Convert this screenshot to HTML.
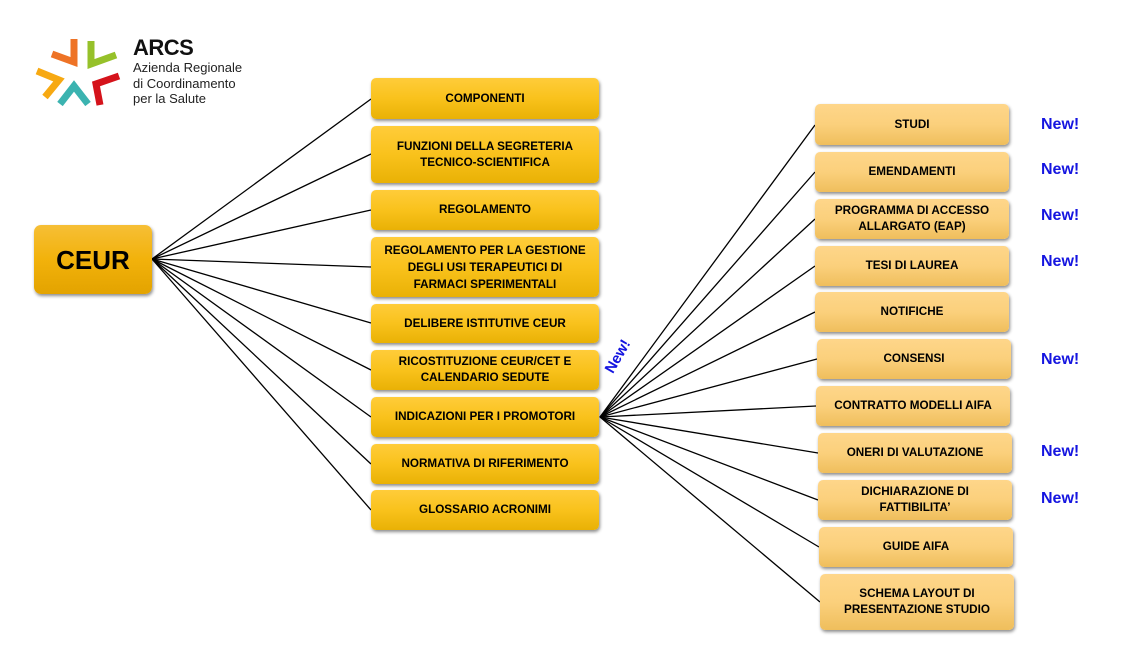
<!DOCTYPE html>
<html><head><meta charset="utf-8">
<style>
body{margin:0;width:1121px;height:672px;background:#fff;position:relative;overflow:hidden;font-family:"Liberation Sans",sans-serif}
.b{position:absolute;display:flex;align-items:center;justify-content:center;text-align:center;font-weight:bold;font-size:11.7px;line-height:16px;color:#000;border-radius:5px;box-shadow:1px 2px 3px rgba(0,0,0,.45)}
.m{left:371px;width:228px;background:linear-gradient(#ffcc3a,#f9c21c 50%,#e9b105)}
.r{width:194px;background:linear-gradient(#fed68a,#fbd07c 50%,#efbe5c)}
.n{position:absolute;left:1041px;color:#1515e0;font-weight:bold;font-size:16px;line-height:18px}
svg{position:absolute;left:0;top:0}
</style></head><body>
<svg width="1121" height="672">
<g stroke="#000" stroke-width="1.3">
<line x1="152" y1="259" x2="371" y2="99"/>
<line x1="152" y1="259" x2="371" y2="154"/>
<line x1="152" y1="259" x2="371" y2="210"/>
<line x1="152" y1="259" x2="371" y2="267"/>
<line x1="152" y1="259" x2="371" y2="323"/>
<line x1="152" y1="259" x2="371" y2="370"/>
<line x1="152" y1="259" x2="371" y2="417"/>
<line x1="152" y1="259" x2="371" y2="464"/>
<line x1="152" y1="259" x2="371" y2="510"/>
<line x1="600" y1="417" x2="815" y2="125"/>
<line x1="600" y1="417" x2="815" y2="172"/>
<line x1="600" y1="417" x2="815" y2="219"/>
<line x1="600" y1="417" x2="815" y2="266"/>
<line x1="600" y1="417" x2="815" y2="312"/>
<line x1="600" y1="417" x2="817" y2="359"/>
<line x1="600" y1="417" x2="816" y2="406"/>
<line x1="600" y1="417" x2="818" y2="453"/>
<line x1="600" y1="417" x2="818" y2="500"/>
<line x1="600" y1="417" x2="819" y2="547"/>
<line x1="600" y1="417" x2="820" y2="602"/>
</g>
<g fill="none" stroke-width="7" stroke-linejoin="miter" stroke-linecap="butt">
<polyline points="74,39 74,62 52,54" stroke="#ee7326"/>
<polyline points="91,41 91,64 116,55" stroke="#96c12a"/>
<polyline points="37,71 59,80 45,97" stroke="#f7a912"/>
<polyline points="60,104 74,86 88,104" stroke="#3bb3b0"/>
<polyline points="119,76 96,84 100,105" stroke="#d5131b"/>
</g>
</svg>
<div style="position:absolute;left:133px;top:35px;font-weight:bold;font-size:22px;color:#111;letter-spacing:-0.5px">ARCS</div>
<div style="position:absolute;left:133px;top:60px;font-size:13px;line-height:15.5px;color:#222">Azienda Regionale<br>di Coordinamento<br>per la Salute</div>

<div class="b" style="left:34px;top:225px;width:118px;height:69px;font-size:26px;background:linear-gradient(#f6bf36,#f2b20b 50%,#e3a300);border-radius:7px">CEUR</div>

<div class="b m" style="top:78px;height:41px">COMPONENTI</div>
<div class="b m" style="top:126px;height:57px">FUNZIONI DELLA SEGRETERIA<br>TECNICO-SCIENTIFICA</div>
<div class="b m" style="top:190px;height:40px">REGOLAMENTO</div>
<div class="b m" style="top:237px;height:60px;line-height:17px">REGOLAMENTO PER LA GESTIONE<br>DEGLI USI TERAPEUTICI DI<br>FARMACI SPERIMENTALI</div>
<div class="b m" style="top:304px;height:39px">DELIBERE ISTITUTIVE CEUR</div>
<div class="b m" style="top:350px;height:40px">RICOSTITUZIONE CEUR/CET E<br>CALENDARIO SEDUTE</div>
<div class="b m" style="top:397px;height:40px">INDICAZIONI PER I PROMOTORI</div>
<div class="b m" style="top:444px;height:40px">NORMATIVA DI RIFERIMENTO</div>
<div class="b m" style="top:490px;height:40px">GLOSSARIO ACRONIMI</div>

<div class="b r" style="left:815px;top:104px;height:41px">STUDI</div>
<div class="b r" style="left:815px;top:152px;height:40px">EMENDAMENTI</div>
<div class="b r" style="left:815px;top:199px;height:40px">PROGRAMMA DI ACCESSO<br>ALLARGATO (EAP)</div>
<div class="b r" style="left:815px;top:246px;height:40px">TESI DI LAUREA</div>
<div class="b r" style="left:815px;top:292px;height:40px">NOTIFICHE</div>
<div class="b r" style="left:817px;top:339px;height:40px">CONSENSI</div>
<div class="b r" style="left:816px;top:386px;height:40px">CONTRATTO MODELLI AIFA</div>
<div class="b r" style="left:818px;top:433px;height:40px">ONERI DI VALUTAZIONE</div>
<div class="b r" style="left:818px;top:480px;height:40px">DICHIARAZIONE DI<br>FATTIBILITA’</div>
<div class="b r" style="left:819px;top:527px;height:40px">GUIDE AIFA</div>
<div class="b r" style="left:820px;top:574px;height:56px">SCHEMA LAYOUT DI<br>PRESENTAZIONE STUDIO</div>

<div class="n" style="top:116px">New!</div>
<div class="n" style="top:161px">New!</div>
<div class="n" style="top:207px">New!</div>
<div class="n" style="top:253px">New!</div>
<div class="n" style="top:351px">New!</div>
<div class="n" style="top:443px">New!</div>
<div class="n" style="top:490px">New!</div>
<div style="position:absolute;left:600px;top:348px;color:#1515e0;font-weight:bold;font-size:15px;transform:rotate(-60deg);transform-origin:center">New!</div>
</body></html>
